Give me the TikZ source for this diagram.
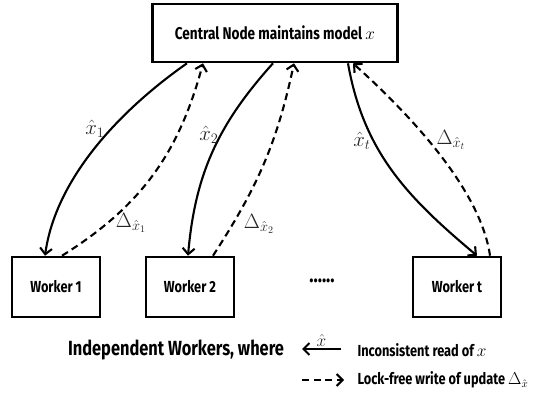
\documentclass[tikz,border=0pt]{standalone}
\usepackage{fontspec}
\setmainfont{Fira Sans}[FakeStretch=0.8]
\usetikzlibrary{arrows.meta,positioning}

\begin{document}
\begin{tikzpicture}[x=1pt,y=1pt,
    box/.style={rectangle, draw, line width=2.6pt, inner sep=0pt, font=\bfseries\fontsize{16}{18}\selectfont},
    rd/.style={line width=2.1pt, -{Straight Barb[length=6pt,width=12pt]}},
    wr/.style={rd, dash pattern=on 7pt off 4.5pt},
    lbl/.style={inner sep=0pt, font=\fontsize{20}{22}\selectfont, text=black!85}]
      \useasboundingbox (0,0) rectangle (555,-395);
      % server and workers
      \node[box, minimum width=245pt, minimum height=58pt, font=\bfseries\fontsize{17}{19}\selectfont] at (275,-33) (central) {Central Node maintains model $x$};
      \node[box, minimum width=88pt, minimum height=60pt] at (56,-287) (w1) {Worker 1};
      \node[box, minimum width=88pt, minimum height=60pt] at (190,-287) (w2) {Worker 2};
      \node[box, minimum width=88pt, minimum height=60pt] at (457,-287) (wt) {Worker t};
      \node[font=\bfseries\fontsize{22}{24}\selectfont] at (322,-281) (dots) {......};
      % reads and writes
      \draw[rd] ([xshift=-88pt]central.south) to[out=215,in=82,looseness=0.85] ([xshift=-11pt]w1.north);
      \draw[wr] ([xshift=6pt]w1.north) to[out=32,in=255] ([xshift=-72pt]central.south);
      \draw[rd] ([xshift=-2pt]central.south) to[out=228,in=85] ([xshift=-2pt]w2.north);
      \draw[wr] ([xshift=23pt]w2.north) to[out=57,in=258] ([xshift=19pt]central.south);
      \draw[rd] ([xshift=73pt]central.south) to[out=280,in=140] ([xshift=20pt]wt.north);
      \draw[wr] ([xshift=33pt]wt.north) to[out=98,in=-42,looseness=0.75] ([xshift=78pt]central.south);
      \node[lbl] at (95,-129) (l1) {${\hat{x}}_1$};
      \node[lbl] at (131,-223) (d1) {$\Delta_{\hat{x}_1}$};
      \node[lbl] at (209,-135) (l2) {${\hat{x}}_2$};
      \node[lbl] at (259,-224) (d2) {$\Delta_{\hat{x}_2}$};
      \node[lbl] at (362,-141) (lt) {${\hat{x}}_t$};
      \node[lbl] at (451,-140) (dt) {$\Delta_{\hat{x}_t}$};
      % legend
      \node[font=\bfseries\fontsize{20.5}{22}\selectfont] at (176,-350) (where) {Independent Workers, where};
      \coordinate (ra) at (341,-349);
      \coordinate (rb) at (302,-349);
      \coordinate (wa) at (302,-380);
      \coordinate (wb) at (344,-380);
      \draw[rd] (ra) -- node[above=1pt, lbl, font=\fontsize{17}{19}\selectfont] (xh) {$\hat{x}$} (rb);
      \draw[wr] (wa) -- (wb);
      \node[anchor=west, font=\bfseries\fontsize{16}{18}\selectfont] at (354,-350) (readtxt) {Inconsistent read of $x$};
      \node[anchor=west, font=\bfseries\fontsize{16}{18}\selectfont] at (354,-380) (writetxt) {Lock-free write of update $\Delta_{\hat{x}}$};
\end{tikzpicture}
\end{document}
